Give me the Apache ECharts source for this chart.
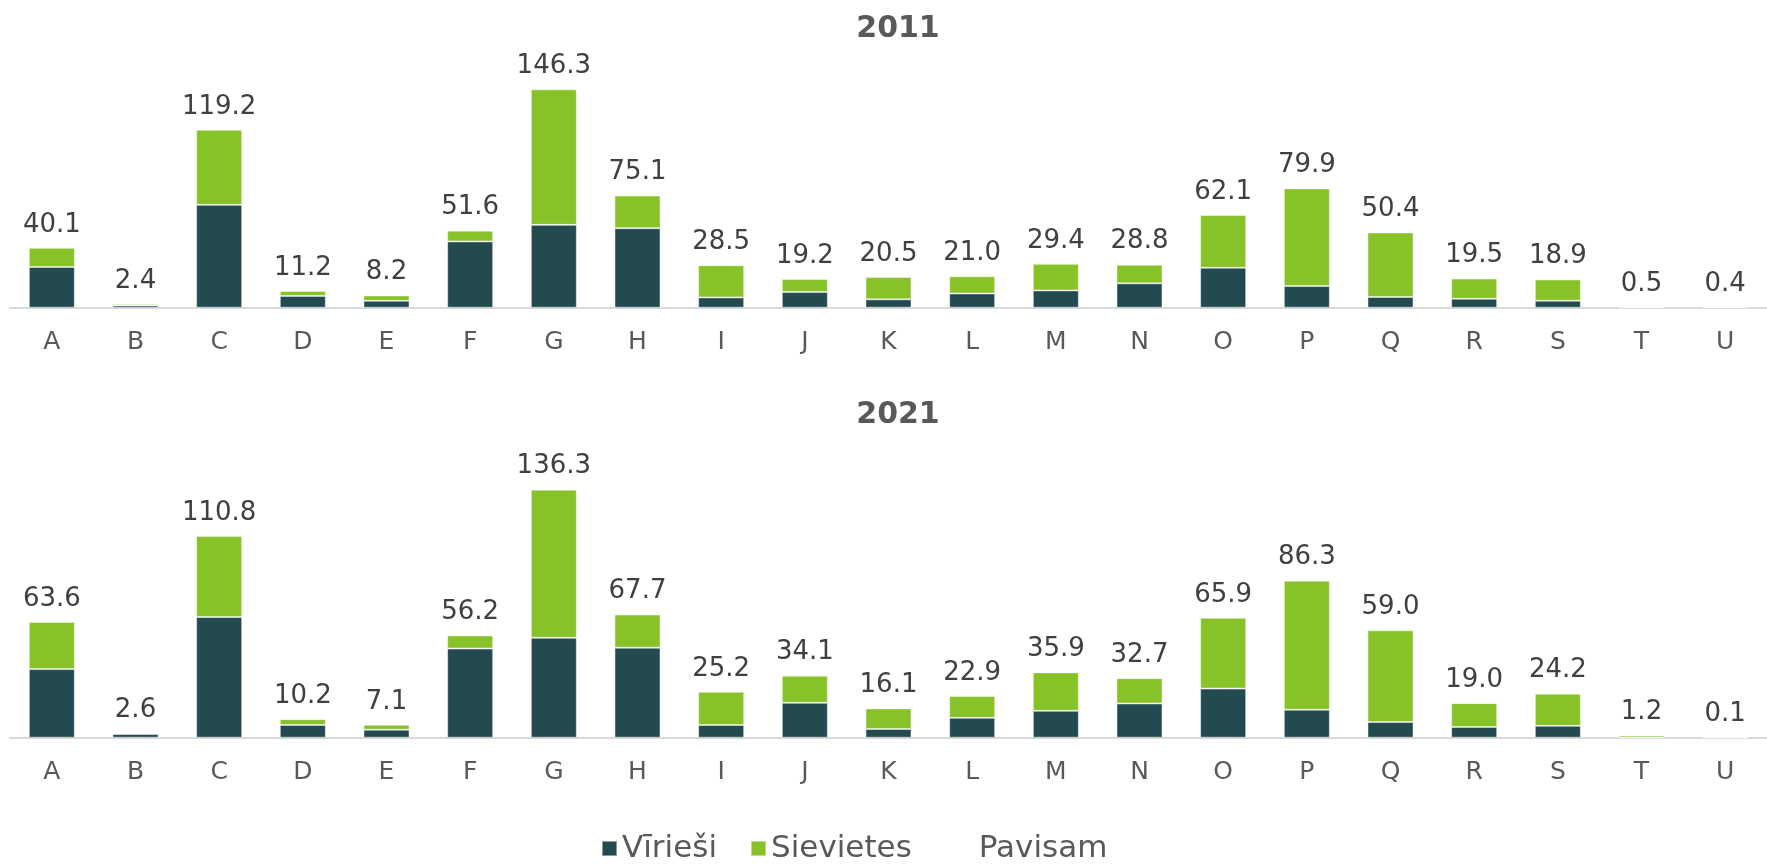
<!DOCTYPE html>
<html>
<head>
<meta charset="utf-8">
<title>2011 / 2021</title>
<script src="https://cdn.jsdelivr.net/npm/echarts@6/dist/echarts.min.js"></script>
<style>
  html, body { margin: 0; padding: 0; background: #fff; }
  #chart { width: 1767px; height: 866px; }
</style>
</head>
<body>
<div id="chart"></div>
<script>
// ================= 数据 =================
const categories = ['A', 'B', 'C', 'D', 'E', 'F', 'G', 'H', 'I', 'J', 'K', 'L', 'M', 'N', 'O', 'P', 'Q', 'R', 'S', 'T', 'U']

// 2011
const men2011 = [27.3, 1.5, 68.9, 7.9, 4.6, 44.4, 55.5, 53.3, 6.9, 10.5, 5.6, 9.5, 11.6, 16.3, 26.8, 14.5, 7.2, 6.0, 4.7, 0.1, 0.2]
const women2011 = [12.8, 0.9, 50.3, 3.3, 3.6, 7.2, 90.8, 21.8, 21.6, 8.7, 14.9, 11.5, 17.8, 12.5, 35.3, 65.4, 43.2, 13.5, 14.2, 0.4, 0.2]
const total2011 = [40.1, 2.4, 119.2, 11.2, 8.2, 51.6, 146.3, 75.1, 28.5, 19.2, 20.5, 21.0, 29.4, 28.8, 62.1, 79.9, 50.4, 19.5, 18.9, 0.5, 0.4]

// 2021
const men2021 = [37.7, 2.0, 66.3, 7.0, 4.4, 49.0, 54.9, 49.5, 7.0, 19.2, 4.8, 10.9, 14.8, 18.8, 27.0, 15.4, 8.6, 5.9, 6.5, 0.1, 0.0]
const women2021 = [25.9, 0.6, 44.5, 3.2, 2.7, 7.2, 81.4, 18.2, 18.2, 14.9, 11.3, 12.0, 21.1, 13.9, 38.9, 70.9, 50.4, 13.1, 17.7, 1.1, 0.1]
const total2021 = [63.6, 2.6, 110.8, 10.2, 7.1, 56.2, 136.3, 67.7, 25.2, 34.1, 16.1, 22.9, 35.9, 32.7, 65.9, 86.3, 59.0, 19.0, 24.2, 1.2, 0.1]

const years = ['2011', '2021']

// ================= 样式 =================
const colorMen = '#234A4F'
const colorWomen = '#86C228'
const fontFamily = 'DejaVu Sans, Verdana, sans-serif'

const chartInstance = echarts.init(document.getElementById('chart'), null, { renderer: 'canvas' })

function xAxisFor(gridIndex) {
  return {
    type: 'category',
    gridIndex: gridIndex,
    data: categories,
    axisTick: { show: false },
    axisLine: { lineStyle: { color: '#d9d9d9', width: 2 } },
    axisLabel: { color: '#595959', fontSize: 25, fontFamily: fontFamily, margin: 22 },
  }
}

function yAxisFor(gridIndex) {
  return {
    type: 'value',
    gridIndex: gridIndex,
    min: 0,
    max: 160,
    show: false,
    splitLine: { show: false },
  }
}

function stackSeries(name, data, color, idx) {
  return {
    name: name,
    type: 'bar',
    stack: 'y' + idx,
    xAxisIndex: idx,
    yAxisIndex: idx,
    data: data,
    barWidth: '55%',
    barGap: '-100%',
    itemStyle: { color: color, borderColor: 'rgba(255,255,255,0.45)', borderWidth: 1 },
    emphasis: { disabled: true },
  }
}

// 总数只显示标签，柱子透明
function totalSeries(data, idx) {
  return {
    name: 'Pavisam',
    type: 'bar',
    xAxisIndex: idx,
    yAxisIndex: idx,
    data: data,
    barWidth: '55%',
    barGap: '-100%',
    z: 1,
    itemStyle: { color: 'rgba(0,0,0,0)' },
    emphasis: { disabled: true },
    label: {
      show: true,
      position: 'top',
      distance: 10,
      color: '#404040',
      fontSize: 26,
      fontFamily: fontFamily,
      formatter: (p) => p.value.toFixed(1),
    },
  }
}

const titleStyle = { color: '#595959', fontSize: 30, fontWeight: 'bold', fontFamily: fontFamily }

const option = {
  animation: false,
  textStyle: { fontFamily: fontFamily },
  title: [
    { text: years[0], left: 893, top: 9, textAlign: 'center', textStyle: titleStyle },
    { text: years[1], left: 893, top: 395, textAlign: 'center', textStyle: titleStyle },
  ],
  legend: {
    left: 596,
    top: 828,
    itemWidth: 15,
    itemHeight: 15,
    itemGap: 33,
    icon: 'rect',
    data: [
      'Vīrieši',
      'Sievietes',
      { name: 'Pavisam', textStyle: { padding: [0, 0, 0, 14] } },
    ],
    textStyle: { color: '#595959', fontSize: 31, fontFamily: fontFamily },
  },
  grid: [
    { left: 10, width: 1774.5, top: 68.9, height: 238.8 },
    { left: 10, width: 1774.5, top: 446.6, height: 291.1 },
  ],
  xAxis: [xAxisFor(0), xAxisFor(1)],
  yAxis: [yAxisFor(0), yAxisFor(1)],
  series: [
    totalSeries(total2011, 0),
    stackSeries('Vīrieši', men2011, colorMen, 0),
    stackSeries('Sievietes', women2011, colorWomen, 0),
    totalSeries(total2021, 1),
    stackSeries('Vīrieši', men2021, colorMen, 1),
    stackSeries('Sievietes', women2021, colorWomen, 1),
  ],
}

chartInstance.setOption(option)
</script>
</body>
</html>
